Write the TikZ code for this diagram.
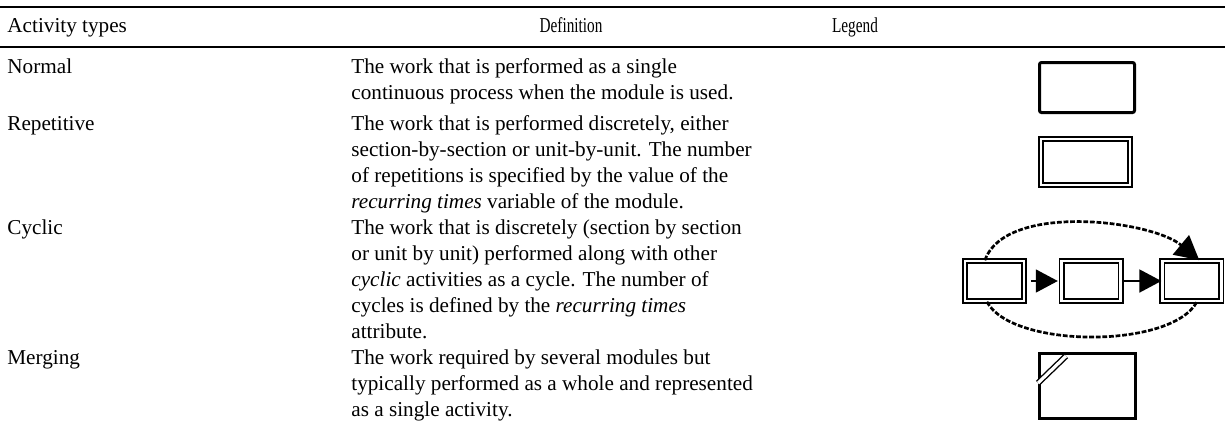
\documentclass[tikz,border=0pt]{standalone}
\usepackage{fontspec}
\setmainfont{Liberation Serif}
\usepackage{graphicx}
\usetikzlibrary{arrows.meta, positioning, calc}

\begin{document}
\begin{tikzpicture}[x=0.5pt, y=-0.5pt,
  txt/.style={anchor=base west, inner sep=0pt, align=left, font=\fontsize{10.6}{13}\selectfont},
  hdr/.style={anchor=base, inner sep=0pt, font=\fontsize{10.6}{13}\selectfont},
  plain/.style={draw, line width=1.5pt, rounded corners=1pt, inner sep=0pt, minimum width=47.5pt, minimum height=25pt},
  rep/.style={draw, double, double distance=1.4pt, line width=0.8pt, inner sep=0pt, minimum width=44.5pt, minimum height=23pt},
  cyc/.style={rep, minimum width=29.5pt, minimum height=20pt},
  merge/.style={draw, line width=1.5pt, inner sep=0pt, minimum width=48pt, minimum height=32.5pt},
  link/.style={line width=0.8pt, -{Triangle[length=11pt, width=11.5pt]}},
  loop/.style={line width=1.35pt, dash pattern=on 2.4pt off 0.9pt}]
\useasboundingbox (0,0) rectangle (1225,430);
\draw[line width=1.1pt] (0,7) -- (1225,7);
\draw[line width=0.9pt] (0,47) -- (1225,47);
\node[txt] (thd) at (7,32) {Activity types};
\node[hdr] (dhd) at (571,32) {\scalebox{0.72}[1]{Definition}};
\node[hdr] (lhd) at (855,32) {\scalebox{0.72}[1]{Legend}};
\node[txt] (tnorm) at (7,73) {Normal};
\node[txt] (dnorm) at (351,99) {The work that is performed as a single\\continuous process when the module is used.};
\node[txt] (trep) at (7,130) {Repetitive};
\node[txt] (drep) at (351,208) {The work that is performed discretely, either\\section-by-section or unit-by-unit.  The number\\of repetitions is specified by the value of the\\\textit{recurring times} variable of the module.};
\node[txt] (tcyc) at (7,234) {Cyclic};
\node[txt] (dcyc) at (351,338) {The work that is discretely (section by section\\or unit by unit) performed along with other\\\textit{cyclic} activities as a cycle.  The number of\\cycles is defined by the \textit{recurring times}\\attribute.};
\node[txt] (tmrg) at (7,364) {Merging};
\node[txt] (dmrg) at (351,416) {The work required by several modules but\\typically performed as a whole and represented\\as a single activity.};
\node[plain] (lnorm) at (1087,87.5) {};
\node[rep] (lrep) at (1085.5,162) {};
\node[cyc] (c1) at (994.5,281) {};
\node[cyc, right=18pt of c1] (c2) {};
\node[cyc, right=20pt of c2] (c3) {};
\node[merge] (lmrg) at (1087.5,386) {};
\draw[link, shorten <=3pt, shorten >=1.5pt] (c1.east) -- (c2.west);
\draw[link, shorten <=1.5pt] (c2.east) -- (c3.west);
\draw[loop, -{Triangle[length=12pt, width=12.5pt]}] (c1.115) .. controls +(21,-58) and +(-48,-40) .. (c3.70);
\draw[loop] (c1.250) .. controls +(25,47) and +(-25,47) .. (c3.284);
\draw[double, double distance=1.6pt, line width=0.7pt] ($(lmrg.north west)+(28,4)$) -- ($(lmrg.north west)+(0,31)$);
\end{tikzpicture}
\end{document}
